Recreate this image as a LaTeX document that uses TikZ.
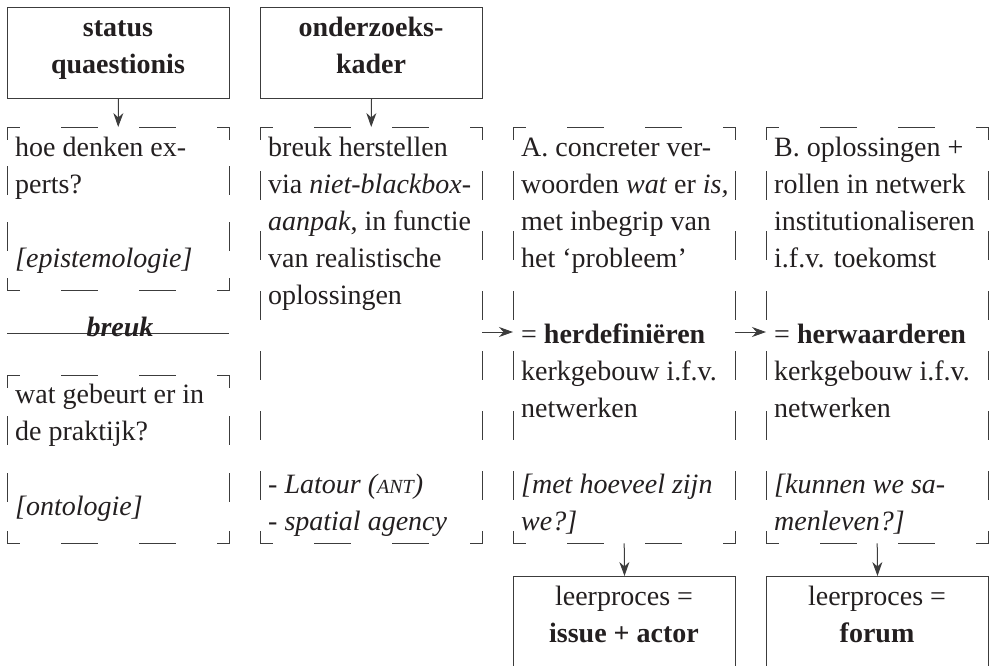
\documentclass[tikz,border=0pt]{standalone}
\usepackage{fontspec}
\setmainfont{Liberation Serif}
\usetikzlibrary{arrows.meta}
\definecolor{ink}{RGB}{35,31,32}
\definecolor{rulec}{RGB}{60,60,60}
\newcommand\fs{\fontsize{28}{37}\selectfont}
\newcommand\smallant{{\fontsize{20}{20}\selectfont ANT}}
\newcommand\dseg[6]{%
  \pgfmathsetmacro\dsL{abs(#3-#1)+abs(#4-#2)}%
  \pgfmathsetmacro\dsN{max(0,round((\dsL-24-#6)/(#5+#6)))}%
  \pgfmathsetmacro\dsG{(\dsL-24-\dsN*#5)/(\dsN+1)}%
  \pgfmathsetmacro\dsP{#5-12}%
  \draw[dline,dash pattern=on #5pt off \dsG pt,dash phase=\dsP pt] (#1,#2) -- (#3,#4);%
}
\newcommand\dbox[4]{%
  \dseg{#1}{#2}{#3}{#2}{36}{40}%
  \dseg{#3}{#2}{#3}{#4}{28}{30}%
  \dseg{#3}{#4}{#1}{#4}{36}{40}%
  \dseg{#1}{#4}{#1}{#2}{28}{30}%
}
\begin{document}
\begin{tikzpicture}[x=1pt,y=-1pt,
  txt/.style={font=\fs, text=ink, inner sep=0pt, anchor=base west, align=left},
  ctr/.style={font=\fs, text=ink, inner sep=0pt, anchor=base, align=center},
  sbox/.style={draw=rulec, line width=1pt, inner sep=0pt, anchor=north west},
  dline/.style={draw=rulec, line width=1pt, line cap=rect},
  area/.style={inner sep=0pt, anchor=north west},
  arr/.style={draw=rulec, line width=1pt, -{Stealth[length=14pt,width=10pt,inset=4.5pt]}},
]
\useasboundingbox (0,0) rectangle (990,665);
\clip (0,0) rectangle (990,665);

% solid boxes
\node[sbox, minimum width=222pt, minimum height=91pt] (sq) at (7,7) {};
\node[sbox, minimum width=222pt, minimum height=91pt] (ok) at (260,7) {};
\node[sbox, minimum width=222pt, minimum height=130pt] (lA) at (513,576) {};
\node[sbox, minimum width=222pt, minimum height=130pt] (lB) at (766,576) {};

% dashed areas (named) and their dashed outlines
\node[area, minimum width=222pt, minimum height=163pt] (d1a) at (7,127) {};
\node[area, minimum width=222pt, minimum height=168pt] (d1b) at (7,375) {};
\node[area, minimum width=222pt, minimum height=416pt] (d2) at (260,127) {};
\node[area, minimum width=222pt, minimum height=416pt] (d3) at (513,127) {};
\node[area, minimum width=222pt, minimum height=416pt] (d4) at (766,127) {};
\dbox{7}{127}{229}{290}
\dbox{7}{375}{229}{543}
\dbox{260}{127}{482}{543}
\dbox{513}{127}{735}{543}
\dbox{766}{127}{988}{543}

% breuk rule
\draw[draw=rulec, line width=1pt] (7,333) -- (229,333);
\node[ctr, font=\fs\bfseries\itshape] (br) at (120,336) {breuk};

% titles (base anchor = last line)
\node[ctr, font=\fs\bfseries] (tsq) at (118,73) {status\\quaestionis};
\node[ctr, font=\fs\bfseries] (tok) at (371,73) {onderzoeks-\\kader};
\node[ctr] (tlA) at (624,642) {leerproces =\\\textbf{issue + actor}};
\node[ctr] (tlB) at (877,642) {leerproces =\\\textbf{forum}};

% column 1
\node[txt] (c1a) at (15,193) {hoe denken ex-\\perts?};
\node[txt] (c1b) at (15,267) {\textit{[epistemologie]}};
\node[txt] (c1c) at (15,440) {wat gebeurt er in\\de praktijk?};
\node[txt] (c1d) at (15,515) {\textit{[ontologie]}};

% column 2
\node[txt] (c2a) at (268,304) {breuk herstellen\\via \textit{niet-blackbox-}\\\textit{aanpak}, in functie\\van realistische\\oplossingen};
\node[txt] (c2b) at (268,530) {\textit{- Latour (\smallant)}\\\textit{- spatial agency}};

% column 3
\node[txt] (c3a) at (521,267) {A. concreter ver-\\woorden \textit{wat} er \textit{is,}\\met inbegrip van\\het ‘probleem’};
\node[txt] (c3b) at (521,417) {= \textbf{herdefiniëren}\\kerkgebouw i.f.v.\\netwerken};
\node[txt] (c3c) at (521,530) {\textit{[met hoeveel zijn}\\\textit{we?]}};

% column 4
\node[txt] (c4a) at (774,267) {B. oplossingen +\\rollen in netwerk\\institutionaliseren\\i.f.v. toekomst};
\node[txt] (c4b) at (774,417) {= \textbf{herwaarderen}\\kerkgebouw i.f.v.\\netwerken};
\node[txt] (c4c) at (774,530) {\textit{[kunnen we sa-}\\\textit{menleven?]}};

% connectors
\coordinate (hl) at (0,332);
\draw[arr] (sq.south) -- (d1a.north);
\draw[arr] (ok.south) -- (d2.north);
\draw[arr] (d2.east |- hl) -- (d3.west |- hl);
\draw[arr] (d3.east |- hl) -- (d4.west |- hl);
\draw[arr] (d3.south) -- (lA.north);
\draw[arr] (d4.south) -- (lB.north);
\end{tikzpicture}
\end{document}
